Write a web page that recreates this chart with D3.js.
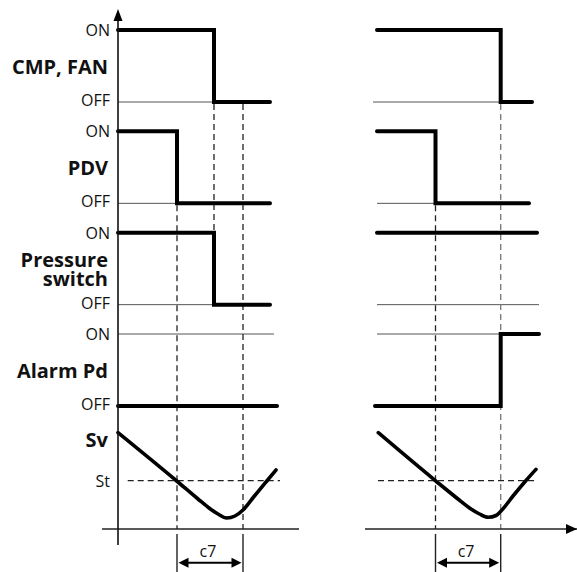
<!DOCTYPE html>
<html><head><meta charset="utf-8">
<script src="https://cdn.jsdelivr.net/npm/d3@7"></script>
<style>
body{margin:0;background:#fff}
svg{display:block}
text{font-family:"Open Sans",sans-serif;fill:#111}
</style>
</head><body>
<svg id="c" width="577" height="572"></svg>
<script>
// ---- data ----
const signalNames = ["CMP, FAN", "PDV", "Pressure\nswitch", "Alarm Pd"];
const stateLabels = ["ON", "OFF"];
const curveLabel = "Sv";
const thresholdLabel = "St";
const delayLabel = "c7";

// step signals: [time, state] (1 = ON, 0 = OFF)
const cmpLeft   = [[0, 1], [9.6, 0], [15.2, 0]];
const pdvLeft   = [[0, 1], [5.9, 0], [15.2, 0]];
const psLeft    = [[0, 1], [9.6, 0], [15.2, 0]];
const alarmLeft = [[0, 0], [15.9, 0]];
const cmpRight   = [[0, 1], [12.37, 0], [15.5, 0]];
const pdvRight   = [[0, 1], [5.85, 0], [15.2, 0]];
const psRight    = [[0, 1], [16.0, 1]];
const alarmRight = [[-0.2, 0], [12.37, 1], [16.2, 1]];

// thin reference line extents (opposite level) per signal
const thinLeft  = [[0, 15.2], [0, 15.2], [0, 15.2], [0, 15.6]];
const thinRight = [[-0.4, 15.5], [0, 15.2], [0, 16.2], [0, 16.2]];

// Sv curve: [time, value]
const svLeft  = [[0, 9.63], [5.87, 4.8], [8.0, 3.0], [9.2, 2.03], [10.0, 1.5], [10.87, 1.1], [11.7, 1.3], [12.5, 1.9], [13.6, 3.25], [14.8, 4.7], [15.8, 5.9]];
const svRight = [[0.13, 9.63], [5.8, 4.87], [8.1, 3.0], [9.4, 2.0], [10.25, 1.5], [11.13, 1.17], [11.9, 1.35], [12.4, 1.8], [13.6, 3.3], [14.9, 4.85], [15.9, 5.97]];
const stValue = 4.83;
const stExtentLeft = [0.97, 16.2];
const stExtentRight = [0.1, 15.8];

// vertical guides: [time, signal row where it starts (OFF level), end row (ON level) or -1 = time axis]
const guidesLeft  = [[5.9, 1, -1], [9.6, 0, 2], [12.5, 0, -1]];
const guidesRight = [[5.85, 1, -1], [12.37, 0, -1]];
const c7Left  = [5.9, 12.5];
const c7Right = [5.85, 12.37];
const timeAxisLeft = [-1.6, 18.1];
const timeAxisRight = [-1.2, 20];

// ---- scales ----
const svg = d3.select("#c");
const xL = d3.scaleLinear().domain([0, 16]).range([118, 278]);
const xR = d3.scaleLinear().domain([0, 16]).range([377, 537]);
const yRow = d3.scaleLinear().domain([0, 3]).range([30, 334]);
const yLvl = d3.scaleLinear().domain([0, 1]).range([72, 0]);
const yLevel = (r, s) => yRow(r) + yLvl(s);
const ySv = d3.scaleLinear().domain([0, 10]).range([529, 429]);
const axisY = ySv(0);

function drawPanel(x, steps, thin, sv, stExt, guides, c7, axisExt, greyLast) {
  const g = svg.append("g");
  steps.forEach((st, r) => {
    const lvl = 1 - st[0][1];
    g.append("line")
      .attr("x1", x(thin[r][0])).attr("x2", x(thin[r][1]))
      .attr("y1", yLevel(r, lvl)).attr("y2", yLevel(r, lvl))
      .attr("stroke", "#555").attr("stroke-width", 1);
  });
  guides.forEach((gd, i) => {
    const y1 = yLevel(gd[1], 0) + 2;
    const y2 = gd[2] < 0 ? axisY : yLevel(gd[2], 1);
    g.append("line")
      .attr("x1", x(gd[0])).attr("x2", x(gd[0]))
      .attr("y1", y1).attr("y2", y2)
      .attr("stroke", (greyLast && i === guides.length - 1) ? "#777" : "#222")
      .attr("stroke-width", 1.3)
      .attr("stroke-dasharray", "6,4");
  });
  g.append("line")
    .attr("x1", x(stExt[0])).attr("x2", x(stExt[1]))
    .attr("y1", ySv(stValue)).attr("y2", ySv(stValue))
    .attr("stroke", "#222").attr("stroke-width", 1.2)
    .attr("stroke-dasharray", "6,4");
  g.append("line")
    .attr("x1", x(axisExt[0])).attr("x2", x(axisExt[1]))
    .attr("y1", axisY).attr("y2", axisY)
    .attr("stroke", "#222").attr("stroke-width", 1.6);
  const stepLine = r => d3.line().curve(d3.curveStepAfter)
    .x(d => x(d[0])).y(d => yLevel(r, d[1]));
  steps.forEach((st, r) => {
    g.append("path").attr("d", stepLine(r)(st))
      .attr("fill", "none").attr("stroke", "#000")
      .attr("stroke-width", 4).attr("stroke-linecap", "round")
      .attr("stroke-linejoin", "miter");
  });
  g.append("path")
    .attr("d", d3.line().curve(d3.curveMonotoneX)
      .x(d => x(d[0])).y(d => ySv(d[1]))(sv))
    .attr("fill", "none").attr("stroke", "#000")
    .attr("stroke-width", 3.6).attr("stroke-linecap", "round")
    .attr("stroke-linejoin", "round");
  const ay = 562.7;
  c7.forEach(t => {
    g.append("line").attr("x1", x(t)).attr("x2", x(t))
      .attr("y1", axisY + 5).attr("y2", 572)
      .attr("stroke", "#222").attr("stroke-width", 1.4);
  });
  const a0 = x(c7[0]) + 1.5, a1 = x(c7[1]) - 1.5;
  g.append("line").attr("x1", a0 + 6).attr("x2", a1 - 6)
    .attr("y1", ay).attr("y2", ay).attr("stroke", "#000").attr("stroke-width", 2);
  g.append("path").attr("d", `M${a0},${ay}L${a0 + 10},${ay - 5}L${a0 + 10},${ay + 5}Z`).attr("fill", "#000");
  g.append("path").attr("d", `M${a1},${ay}L${a1 - 10},${ay - 5}L${a1 - 10},${ay + 5}Z`).attr("fill", "#000");
  g.append("text").attr("x", (a0 + a1) / 2 - 2).attr("y", 557)
    .attr("text-anchor", "middle").attr("font-size", 16).text(delayLabel);
}

drawPanel(xL, [cmpLeft, pdvLeft, psLeft, alarmLeft], thinLeft, svLeft, stExtentLeft, guidesLeft, c7Left, timeAxisLeft, false);
drawPanel(xR, [cmpRight, pdvRight, psRight, alarmRight], thinRight, svRight, stExtentRight, guidesRight, c7Right, timeAxisRight, true);

// left value axis with arrow
const ax0 = xL(0);
svg.append("line").attr("x1", ax0).attr("x2", ax0).attr("y1", 16).attr("y2", 545)
  .attr("stroke", "#111").attr("stroke-width", 1.6);
svg.append("path").attr("d", `M${ax0},9L${ax0 - 4.5},21L${ax0 + 4.5},21Z`).attr("fill", "#000");
const tx = xR(timeAxisRight[1]);
svg.append("path").attr("d", `M${tx},${axisY}L${tx - 11},${axisY - 5}L${tx - 11},${axisY + 5}Z`).attr("fill", "#000");

// labels
const lx = 110;
signalNames.forEach((name, r) => {
  svg.append("text").attr("x", lx).attr("y", yLevel(r, 1) + 6)
    .attr("text-anchor", "end").attr("font-size", 16).text(stateLabels[0]);
  svg.append("text").attr("x", lx).attr("y", yLevel(r, 0) + 4)
    .attr("text-anchor", "end").attr("font-size", 16).text(stateLabels[1]);
  const lines = name.split("\n");
  const mid = (yLevel(r, 1) + yLevel(r, 0)) / 2;
  const t = svg.append("text").attr("x", 108)
    .attr("y", mid + 8 - (lines.length - 1) * 9.5)
    .attr("text-anchor", "end").attr("font-size", 20).attr("font-weight", "bold");
  lines.forEach((ln, i) => {
    t.append("tspan").attr("x", 108).attr("dy", i === 0 ? 0 : 19).text(ln);
  });
});
svg.append("text").attr("x", 108).attr("y", 447).attr("text-anchor", "end")
  .attr("font-size", 20).attr("font-weight", "bold").text(curveLabel);
svg.append("text").attr("x", lx).attr("y", ySv(stValue) + 6).attr("text-anchor", "end")
  .attr("font-size", 16).text(thresholdLabel);
</script>
</body></html>
